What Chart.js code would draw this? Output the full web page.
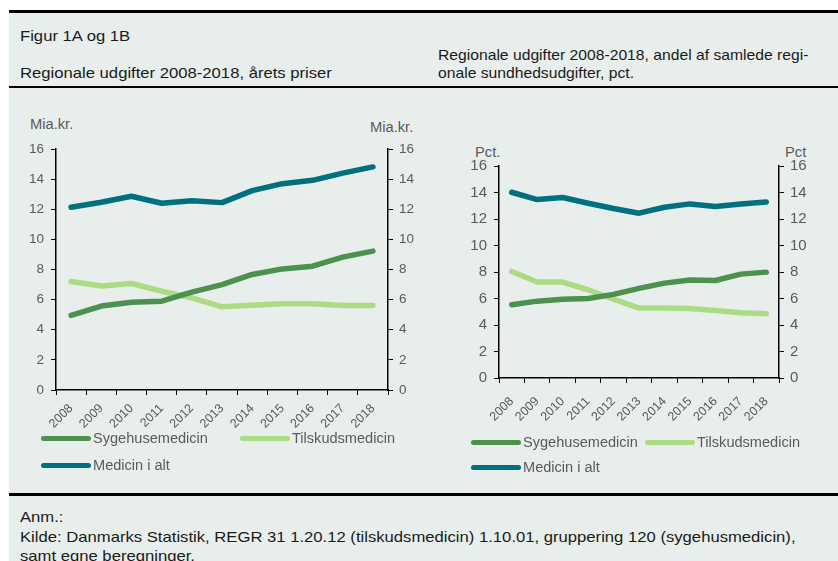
<!DOCTYPE html>
<html lang="da">
<head>
<meta charset="UTF-8">
<title>Figur 1A og 1B</title>
<script src="https://cdn.jsdelivr.net/npm/chart.js@4.4.0/dist/chart.umd.min.js"></script>
<style>
    body { margin: 0; background: #fff; font-family: "Liberation Sans", Arial, sans-serif; }
    .side { position: relative; width: 838px; height: 561px; overflow: hidden; }
    .panel { position: absolute; left: 9px; top: 12px; width: 829px; height: 560px; background: #e8eeeb; }
    .streg { position: absolute; left: 9px; width: 829px; background: #000; }
    .tekst { position: absolute; font-size: 15px; color: #1a1a1a; white-space: nowrap; line-height: 18px; transform-origin: left center; transform: scaleX(1.11); }
    .akse { position: absolute; font-size: 14px; color: #5a5a5a; white-space: nowrap; line-height: 14px; transform-origin: left center; transform: scaleX(1.05); }
    .graf { position: absolute; }
    .leg { position: absolute; font-size: 14px; color: #5a5a5a; white-space: nowrap; line-height: 14px; }
    .leg span { display: inline-block; width: 50px; height: 5px; border-radius: 3px; vertical-align: middle; margin-right: 2px; position: relative; top: -1px; }
    .leg b { font-weight: normal; display: inline-block; transform-origin: left center; transform: scaleX(1.04); }
</style>
</head>
<body>
<div class="side">
    <div class="panel"></div>
    <div class="streg" style="top:10px;height:2.5px"></div>
    <div class="streg" style="top:86px;height:1.5px"></div>
    <div class="streg" style="top:493px;height:2.5px"></div>

    <div class="tekst" style="left:20px;top:27px">Figur 1A og 1B</div>
    <div class="tekst" style="left:20px;top:64px">Regionale udgifter 2008-2018, årets priser</div>
    <div class="tekst" style="left:438px;top:46px;transform:scaleX(1.045)">Regionale udgifter 2008-2018, andel af samlede regi-</div>
    <div class="tekst" style="left:438px;top:64px;transform:scaleX(1.045)">onale sundhedsudgifter, pct.</div>

    <div class="akse" style="left:30px;top:117px">Mia.kr.</div>
    <div class="akse" style="left:370px;top:120px">Mia.kr.</div>
    <div class="akse" style="left:475px;top:145px">Pct.</div>
    <div class="akse" style="left:785px;top:145px">Pct</div>

    <canvas id="kroner" class="graf" width="400" height="300" style="left:20px;top:140px"></canvas>
    <canvas id="procent" class="graf" width="370" height="280" style="left:450px;top:150px"></canvas>

    <div id="legKr"></div>
    <div id="legPct"></div>

    <div class="tekst" style="left:20px;top:508px">Anm.:</div>
    <div class="tekst" style="left:20px;top:528px">Kilde: Danmarks Statistik, REGR 31 1.20.12 (tilskudsmedicin) 1.10.01, gruppering 120 (sygehusmedicin),</div>
    <div class="tekst" style="left:20px;top:547px">samt egne beregninger.</div>
</div>

<script>
    // data
    const aar = ['2008', '2009', '2010', '2011', '2012', '2013', '2014', '2015', '2016', '2017', '2018'];
    const yTicks = [0, 2, 4, 6, 8, 10, 12, 14, 16];

    const sygehusKr = [4.95, 5.57, 5.83, 5.9, 6.5, 7.0, 7.67, 8.04, 8.22, 8.82, 9.22];
    const tilskudKr = [7.2, 6.9, 7.07, 6.56, 6.12, 5.52, 5.63, 5.72, 5.72, 5.61, 5.61];
    const altKr = [12.13, 12.46, 12.86, 12.4, 12.57, 12.44, 13.24, 13.7, 13.92, 14.4, 14.81];

    const sygehusPct = [5.53, 5.8, 5.95, 6.0, 6.31, 6.76, 7.16, 7.39, 7.36, 7.84, 7.99];
    const tilskudPct = [8.04, 7.24, 7.24, 6.66, 5.95, 5.28, 5.28, 5.25, 5.1, 4.92, 4.85];
    const altPct = [14.02, 13.47, 13.62, 13.19, 12.79, 12.44, 12.89, 13.14, 12.94, 13.14, 13.29];

    const navne = ['Sygehusemedicin', 'Tilskudsmedicin', 'Medicin i alt'];
    const farver = ['#4d914f', '#addb84', '#006f80'];

    function serie(navn, data, farve) {
        return {
            label: navn,
            data: data,
            borderColor: farve,
            backgroundColor: farve,
            borderWidth: 5.5,
            borderCapStyle: 'round',
            borderJoinStyle: 'round',
            pointRadius: 0,
            tension: 0,
            yAxisID: 'y'
        };
    }

    function yAkse(pos, bredde, str, pad) {
        return {
            position: pos,
            min: 0,
            max: 16,
            afterBuildTicks: (s) => { s.ticks = yTicks.map(v => ({ value: v })); },
            afterFit: (s) => {
                s.width = bredde;
                // lad layout.padding styre toppen af plotområdet
                s.paddingTop = 0;
                s.paddingBottom = 0;
            },
            grid: { drawOnChartArea: false, drawTicks: true, tickLength: 5, color: '#000', lineWidth: 1 },
            border: { display: true, color: '#000', width: 1.5 },
            ticks: { color: '#5a5a5a', font: { family: 'Liberation Sans', size: str }, padding: pad }
        };
    }

    // o = {venstre, hoejre, xHoejde, top, str, xPad}
    function lavGraf(id, d1, d2, d3, o) {
        return new Chart(document.getElementById(id), {
            type: 'line',
            data: {
                labels: aar,
                datasets: [
                    serie(navne[2], d3, farver[2]),
                    serie(navne[0], d1, farver[0]),
                    serie(navne[1], d2, farver[1])
                ]
            },
            options: {
                responsive: false,
                animation: false,
                layout: { padding: { top: o.top, left: 0, right: 0, bottom: 0 } },
                plugins: { legend: { display: false }, tooltip: { enabled: false } },
                scales: {
                    x: {
                        offset: true,
                        afterFit: (s) => { s.height = o.xHoejde; },
                        grid: { offset: true, drawOnChartArea: false, drawTicks: true, tickLength: 5, color: '#000', lineWidth: 1 },
                        border: { display: true, color: '#000', width: 1.5 },
                        ticks: { color: '#5a5a5a', font: { family: 'Liberation Sans', size: 12.5 }, minRotation: 45, maxRotation: 45, autoSkip: false, padding: o.xPad }
                    },
                    y: yAkse('left', o.venstre, o.str, 7),
                    y1: yAkse('right', o.hoejre, o.str, 6)
                }
            }
        });
    }

    lavGraf('kroner', sygehusKr, tilskudKr, altKr, { venstre: 36, hoejre: 32, xHoejde: 50, top: 9, str: 13.5, xPad: 6 });
    lavGraf('procent', sygehusPct, tilskudPct, altPct, { venstre: 49, hoejre: 41, xHoejde: 52, top: 16, str: 15, xPad: 11 });

    // legender
    function legende(boksId, pos) {
        var boks = document.getElementById(boksId);
        for (let i = 0; i < navne.length; i++) {
            var el = document.createElement('div');
            el.className = 'leg';
            el.style.left = pos[i][0] + 'px';
            el.style.top = (pos[i][1] - 7) + 'px';
            el.innerHTML = `<span style="background:${farver[i]}"></span><b>${navne[i]}</b>`;
            boks.appendChild(el);
        }
    }
    legende('legKr', [[41, 438], [240, 438], [41, 465]]);
    legende('legPct', [[471, 442], [645, 442], [471, 467]]);
</script>
</body>
</html>
